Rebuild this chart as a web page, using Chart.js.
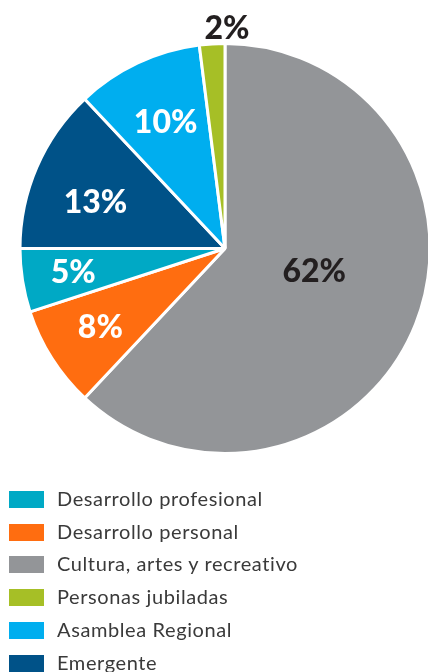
<!DOCTYPE html>
<html>
<head>
<meta charset="utf-8">
<script src="https://cdn.jsdelivr.net/npm/chart.js@4"></script>
<style>
  html, body { margin: 0; padding: 0; background: #fff; overflow: hidden; }
  #wrap { position: relative; width: 428px; height: 672px; }
  canvas { position: absolute; left: 0; top: 0; }
  .leg { position: absolute; left: 9px; font-family: Lato, sans-serif; font-size: 20px; letter-spacing: 0.6px; color: #3a3a3a; white-space: nowrap; }
  .leg .box { position: absolute; left: 0; width: 35px; height: 17px; }
  .leg .txt { position: absolute; left: 48px; top: -5px; }
</style>
</head>
<body>
<div id="wrap">
  <canvas id="c" width="428" height="672"></canvas>
</div>
<script>
// Data (clockwise from 12 o'clock)
const categories = ['Cultura, artes y recreativo', 'Desarrollo personal', 'Desarrollo profesional', 'Emergente', 'Asamblea Regional', 'Personas jubiladas'];
const values = [62, 8, 5, 13, 10, 2];
const labels = ['62%', '8%', '5%', '13%', '10%', '2%'];
const colors = ['#939598', '#FF6D10', '#00A9C5', '#005288', '#00AEEF', '#A6BF26'];
const legendOrder = ['Desarrollo profesional', 'Desarrollo personal', 'Cultura, artes y recreativo', 'Personas jubiladas', 'Asamblea Regional', 'Emergente'];

// Label placement (style): radius fraction, angle shift (deg), colour
const labelPlace = [
  { r: 0.45, shift: -7, color: '#231F20' },
  { r: 0.72, shift: 0, color: '#ffffff' },
  { r: 0.75, shift: 0, color: '#ffffff' },
  { r: 0.67, shift: -4, color: '#ffffff' },
  { r: 0.68, shift: 0, color: '#ffffff' },
  { r: 1.07, shift: 4.1, color: '#231F20' }
];

const labelPlugin = {
  id: 'sliceLabels',
  afterDatasetsDraw(chart) {
    const ctx = chart.ctx;
    const meta = chart.getDatasetMeta(0);
    ctx.save();
    ctx.font = '900 32px Lato, sans-serif';
    ctx.textAlign = 'center';
    ctx.textBaseline = 'middle';
    meta.data.forEach((arc, i) => {
      const p = arc.getProps(['x', 'y', 'startAngle', 'endAngle', 'outerRadius'], true);
      const lp = labelPlace[i];
      const mid = (p.startAngle + p.endAngle) / 2 + lp.shift * Math.PI / 180;
      const rr = p.outerRadius * lp.r;
      ctx.fillStyle = lp.color;
      ctx.fillText(labels[i], p.x + Math.cos(mid) * rr, p.y + Math.sin(mid) * rr);
    });
    ctx.restore();
  }
};

new Chart(document.getElementById('c'), {
  type: 'pie',
  data: {
    labels: categories,
    datasets: [{
      data: values,
      backgroundColor: colors,
      borderColor: '#ffffff',
      borderWidth: 3,
      radius: 205
    }]
  },
  options: {
    responsive: false,
    animation: false,
    layout: { padding: { left: 22, right: 0, top: 40, bottom: 215 } },
    plugins: { legend: { display: false }, tooltip: { enabled: false } }
  },
  plugins: [labelPlugin]
});

// Legend
const wrap = document.getElementById('wrap');
legendOrder.forEach((name, i) => {
  const idx = categories.indexOf(name);
  const row = document.createElement('div');
  row.className = 'leg';
  row.style.top = (491 + i * 32.7) + 'px';
  const box = document.createElement('div');
  box.className = 'box';
  box.style.background = colors[idx];
  const txt = document.createElement('div');
  txt.className = 'txt';
  txt.textContent = name;
  row.appendChild(box);
  row.appendChild(txt);
  wrap.appendChild(row);
});
</script>
</body>
</html>
